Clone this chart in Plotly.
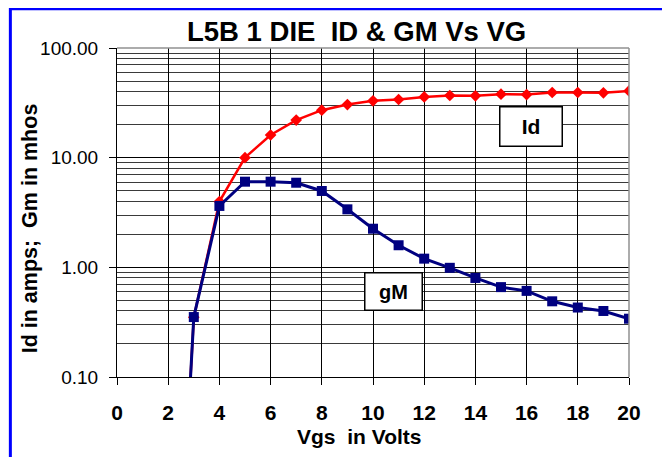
import plotly.graph_objects as go

vgs = [2.5, 3, 4, 5, 6, 7, 8, 9, 10, 11, 12, 13, 14, 15, 16, 17, 18, 19, 20]
id_amps = [0.0025, 0.35, 3.98, 10.0, 16.1, 22.0, 27.1, 30.5, 33.0, 33.9, 35.8,
           36.9, 36.6, 37.9, 37.6, 39.3, 39.3, 39.0, 40.6]
gm_mhos = [0.0025, 0.352, 3.63, 6.04, 6.04, 5.91, 4.97, 3.38, 2.25, 1.59, 1.20,
           0.99, 0.80, 0.66, 0.61, 0.49, 0.43, 0.40, 0.34]

x_ticks = list(range(0, 21, 2))
y_ticks = [0.1, 1, 10, 100]
y_tick_text = ["0.10", "1.00", "10.00", "100.00"]
y_minor = [m * d for d in (0.1, 1, 10) for m in range(2, 10)]

FONT = "Liberation Sans, Arial, sans-serif"
OFF = 8  # page margin offset of the screenshot

fig = go.Figure()
fig.add_trace(go.Scatter(
    x=vgs, y=id_amps, mode="lines+markers", name="Id",
    line=dict(color="#FF0000", width=2.5),
    marker=dict(symbol="diamond", size=9, color="#FF0000"),
))
fig.add_trace(go.Scatter(
    x=vgs, y=gm_mhos, mode="lines+markers", name="gM",
    line=dict(color="#000080", width=3),
    marker=dict(symbol="square", size=10, color="#000080"),
))

# plot area in screenshot pixels: x 116.7..629, y 47.7..377.3
L = 116.7 - OFF
T = 47.7 - OFF
R = 670 - (629 - OFF)
B = 457 - (377.3 - OFF)
fig.update_layout(
    width=670, height=457,
    margin=dict(l=L, r=R, t=T, b=B, pad=0),
    paper_bgcolor="white", plot_bgcolor="white",
    showlegend=False,
    font=dict(family=FONT, color="black"),
)
fig.update_xaxes(
    range=[0, 20], tickvals=x_ticks,
    showgrid=True, gridcolor="black", gridwidth=1,
    showline=True, linecolor="black", linewidth=1,
    ticks="outside", ticklen=7, tickcolor="black", tickwidth=1,
    tickfont=dict(size=21, family=FONT, weight="bold"),
    ticklabelstandoff=10,
    zeroline=False,
)
fig.update_yaxes(
    type="log", range=[-1, 2], tickvals=y_ticks, ticktext=y_tick_text,
    showgrid=True, gridcolor="black", gridwidth=1,
    minor=dict(tickvals=y_minor, showgrid=True, gridcolor="#3a3a3a", gridwidth=1, ticks=""),
    showline=True, linecolor="black", linewidth=1,
    ticks="outside", ticklen=7, tickcolor="black", tickwidth=1,
    tickfont=dict(size=19, family=FONT),
    ticklabelstandoff=7,
    zeroline=False,
)

# plot-area top/right border (gray)
fig.add_shape(type="line", xref="paper", yref="paper", x0=0, x1=1, y0=1, y1=1,
              line=dict(color="#909090", width=1.5))
fig.add_shape(type="line", xref="paper", yref="paper", x0=1, x1=1, y0=0, y1=1,
              line=dict(color="#909090", width=1.5))

pw, ph = 670 - L - R, 457 - T - B
def px_x(p):
    return (p - OFF - L) / pw
def px_y(p):
    return (457 - B - (p - OFF)) / ph

# blue chart frame
fig.add_shape(type="rect", xref="paper", yref="paper",
              x0=px_x(10), x1=px_x(690), y0=px_y(8.3), y1=px_y(480),
              line=dict(color="#0000FF", width=3), fillcolor="rgba(0,0,0,0)", layer="above")

annos = [
    dict(text="<b>L5B 1 DIE  ID &amp; GM Vs VG</b>", x=px_x(356), y=px_y(31), font=dict(size=27.5)),
    dict(text="<b>Vgs  in Volts</b>", x=px_x(359), y=px_y(437), font=dict(size=21)),
    dict(text="<b>Id in amps;  Gm in mhos</b>", x=px_x(30), y=px_y(228), font=dict(size=21.5), textangle=-90),
]
for a in annos:
    fig.add_annotation(xref="paper", yref="paper", showarrow=False,
                       xanchor="center", yanchor="middle", **a)

fig.add_annotation(text="<b>Id</b>", x=16.18, y=1.288, xref="x", yref="y", showarrow=False,
                   font=dict(size=21), bgcolor="white", bordercolor="black", borderwidth=1.5,
                   borderpad=0, width=61, height=38)
fig.add_annotation(text="<b>gM</b>", x=10.79, y=-0.223, xref="x", yref="y", showarrow=False,
                   font=dict(size=20), bgcolor="white", bordercolor="black", borderwidth=1.5,
                   borderpad=0, width=56, height=36)

fig.write_html("out.html")
